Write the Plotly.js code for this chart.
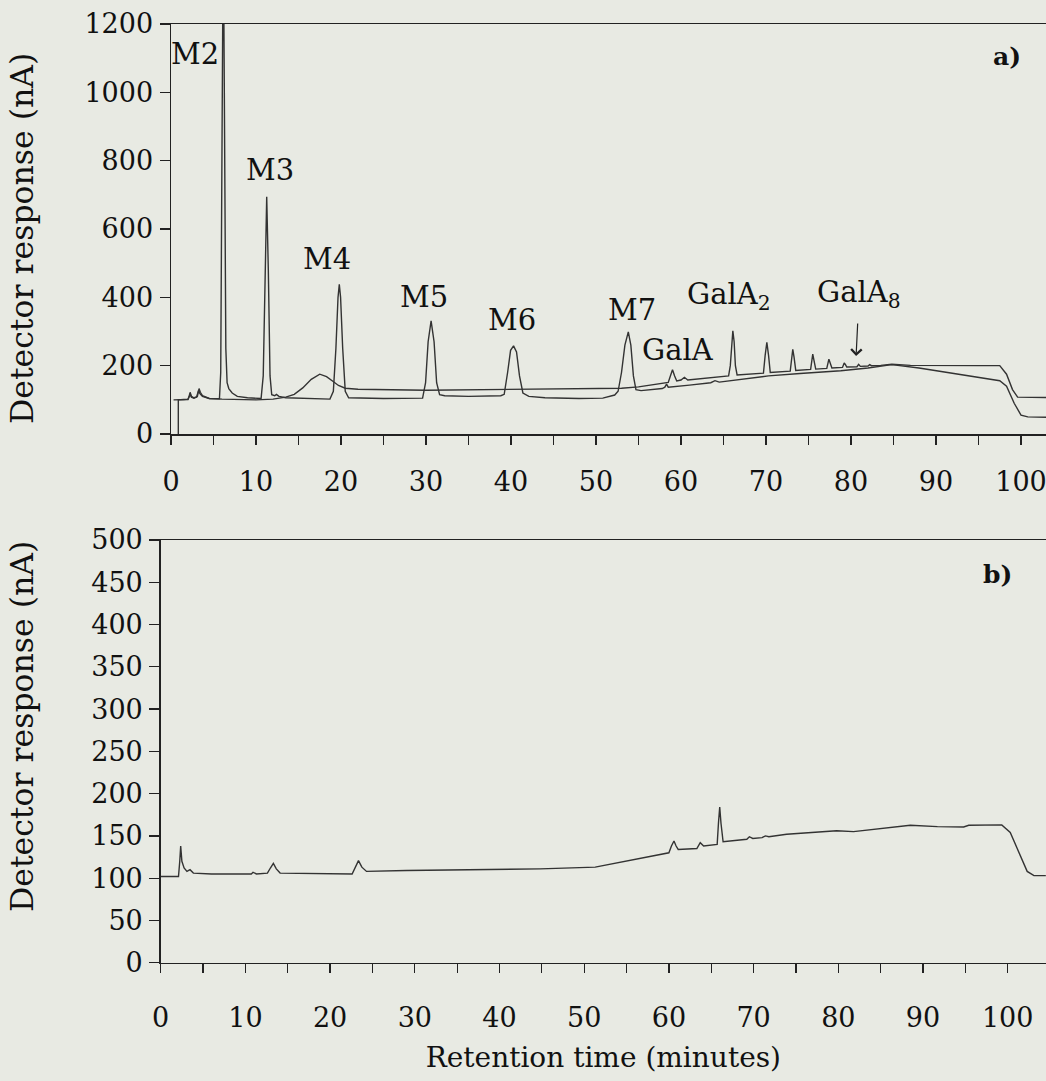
<!DOCTYPE html>
<html>
<head>
<meta charset="utf-8">
<script src="https://cdn.plot.ly/plotly-3.0.1.min.js"></script>
<style>
  html, body { margin: 0; padding: 0; background: #e8eae3; }
  #chart { width: 1046px; height: 1081px; }
</style>
</head>
<body>
<div id="chart"></div>
<script>
// ---------- data ----------
// Panel a), trace 1: oligomer standards M2..M7 (minutes, nA)
const timeStd = [0.86, 0.86, 1.5, 2.0, 2.15, 2.25, 2.4, 2.7, 3.0, 3.15, 3.25, 3.4, 3.7, 4.5, 5.7,
  5.85, 5.95, 6.05, 6.15, 6.25, 6.35, 6.45, 6.6, 6.8, 7.2, 7.8, 9.0,
  10.6, 10.85, 11.05, 11.26, 11.45, 11.65, 11.85, 12.2, 12.4, 12.7, 13.5,
  18.7, 19.1, 19.4, 19.65, 19.8, 19.95, 20.2, 20.5, 20.9, 25.0,
  29.6, 29.95, 30.25, 30.6, 30.95, 31.25, 31.6, 32.2, 35.0, 38.8,
  39.2, 39.6, 39.95, 40.3, 40.65, 41.0, 41.4, 42.1, 44.0, 48.0, 50.8, 52.2,
  52.6, 53.0, 53.4, 53.8, 54.1, 54.4, 54.7, 55.3, 56.5, 57.8, 58.1, 58.3, 58.5, 59.5, 61.0, 63.5,
  64.0, 64.5, 67.0, 70.3, 74.0, 78.8, 82.0, 84.8, 88.0, 91.5, 95.0, 97.5, 98.3, 99.2, 100.0, 100.8, 103.0];
const respStd = [0, 100, 101, 102, 112, 122, 110, 106, 108, 120, 128, 118, 110, 104, 103,
  180, 600, 1100, 1500, 1100, 600, 250, 150, 133, 120, 110, 106,
  104, 170, 480, 694, 480, 170, 115, 112, 116, 110, 106,
  102, 125, 250, 400, 438, 400, 250, 125, 106, 104,
  105, 150, 270, 331, 270, 150, 115, 112, 110, 112,
  116, 180, 245, 258, 240, 170, 120, 110, 106, 104, 105, 114,
  125, 180, 260, 299, 260, 170, 130, 127, 129, 133, 137, 146, 137, 139, 143, 150,
  156, 152, 160, 170, 177, 185, 193, 203, 193, 180, 166, 156, 140, 90, 55, 50, 49];

// Panel a), trace 2: GalA oligomers sample
const timeGal = [0.3, 2.0, 2.15, 2.25, 2.4, 2.7, 3.1, 3.2, 3.3, 3.45, 3.7, 4.5, 6.0, 10.0, 12.0,
  13.5, 14.5, 15.5, 16.5, 17.5, 18.3, 19.0, 19.7, 20.5, 22.0, 30.0, 35.0, 40.0, 45.0, 50.0, 53.0, 55.0, 57.0,
  58.5, 58.75, 59.0, 59.25, 59.5, 60.0, 60.4, 60.8, 63.0, 65.6,
  65.8, 65.95, 66.1, 66.25, 66.4, 66.6,
  69.7, 69.9, 70.1, 70.3, 70.5,
  72.85, 73.0, 73.15, 73.3, 73.5,
  75.25, 75.4, 75.5, 75.65, 75.85,
  77.15, 77.3, 77.4, 77.55, 77.75,
  79.0, 79.1, 79.2, 79.35, 79.5,
  80.7, 80.9, 81.1, 82.0, 82.2, 82.4, 83.5, 84.8, 87.0, 90.0, 95.0, 97.5, 98.3, 99.0, 99.6, 103.0];
const respGal = [100, 101, 110, 118, 108, 105, 110, 125, 133, 122, 112, 104, 102, 100, 102,
  108, 116, 135, 160, 175, 168, 155, 142, 134, 131, 128, 129, 131, 131, 132, 134, 138, 146,
  151, 170, 188, 170, 155, 158, 166, 158, 163, 170,
  200, 270, 302, 270, 200, 173,
  178, 230, 268, 230, 180,
  184, 225, 248, 225, 186,
  189, 215, 234, 215, 190,
  192, 208, 219, 208, 193,
  195, 203, 208, 203, 196,
  197, 204, 198, 199, 203, 200, 201, 204, 201, 200, 200, 200, 175, 130, 108, 107];

// Panel b): second sample
const timeB = [0, 2.1, 2.25, 2.36, 2.5, 2.76, 3.1, 3.46, 3.86, 6.0, 10.7, 10.9, 11.3, 12.6, 12.95, 13.3, 13.65, 14.1,
  22.6, 22.95, 23.35, 23.75, 24.3, 29.0, 37.0, 44.8, 51.3, 54.3, 57.0, 60.0, 60.3, 60.6, 60.85, 61.1,
  63.3, 63.7, 64.1, 65.7, 65.85, 66.0, 66.15, 66.4, 69.2, 69.5, 69.9, 71.0, 71.4, 71.8, 73.9, 79.8, 81.8,
  85.7, 88.5, 91.7, 94.8, 95.4, 99.3, 100.3, 101.5, 102.3, 103.1, 104.5];
const respB = [102, 102, 120, 138, 120, 112, 108, 110, 106, 105, 105, 107, 105, 106, 112, 117.5, 111, 106,
  105, 113, 120.7, 113, 108, 109, 110, 111, 113, 119, 124, 130, 138, 144, 138, 134,
  135, 142, 138, 140, 165, 184, 165, 143, 146, 149, 147, 148, 150, 149, 152, 156, 155,
  159, 162.5, 161, 160.5, 162.5, 163, 154, 126, 108, 103, 103];

const peakLabels = ['M2', 'M3', 'M4', 'M5', 'M6', 'M7', 'GalA', 'GalA<sub>2</sub>', 'GalA<sub>8</sub>'];
const panelLabels = ['a)', 'b)'];
const xTitle = 'Retention time (minutes)';
const yTitle = 'Detector response (nA)';

// ---------- styling ----------
const FONT = 'DejaVu Serif';
const INK = '#222222';
const LINE = '#333333';
const BG = '#e8eae3';
const W = 1046, H = 1081;

const traceStyle = { color: LINE, width: 1.4 };
const traces = [
  { x: timeStd, y: respStd, type: 'scatter', mode: 'lines', line: traceStyle, xaxis: 'x', yaxis: 'y', showlegend: false },
  { x: timeGal, y: respGal, type: 'scatter', mode: 'lines', line: traceStyle, xaxis: 'x', yaxis: 'y', showlegend: false },
  { x: timeB, y: respB, type: 'scatter', mode: 'lines', line: traceStyle, xaxis: 'x2', yaxis: 'y2', showlegend: false }
];

function xAxis(domL, rangeMax, anchor, labelStandoff, withTitle) {
  const ax = {
    domain: [domL / W, 1], range: [0, rangeMax], anchor: anchor,
    showgrid: false, zeroline: false, showline: true, linecolor: INK, linewidth: 1.5,
    mirror: true,
    ticks: 'outside', ticklen: 9, tickwidth: 1.3, tickcolor: INK,
    tick0: 0, dtick: 10,
    minor: { dtick: 5, ticks: 'outside', ticklen: 9, tickwidth: 1.3, tickcolor: INK, showgrid: false },
    tickfont: { family: FONT, size: 27, color: '#111' },
    ticklabelstandoff: labelStandoff,
    ticklabeloverflow: 'allow'
  };
  if (withTitle) ax.title = { text: xTitle, font: { family: FONT, size: 28, color: '#111' }, standoff: 16 };
  return ax;
}
function yAxis(pxTop, pxBot, rangeMax, dtick, anchor) {
  return {
    domain: [1 - pxBot / H, 1 - pxTop / H], range: [0, rangeMax], anchor: anchor,
    showgrid: false, zeroline: false, showline: true, linecolor: INK, linewidth: 1.5,
    ticks: 'outside', ticklen: 10, tickwidth: 1.3, tickcolor: INK,
    tick0: 0, dtick: dtick,
    tickfont: { family: FONT, size: 27, color: '#111' },
    ticklabelstandoff: 1,
    ticklabeloverflow: 'allow'
  };
}

const annFont = { family: FONT, size: 29, color: '#111' };
function lab(text, x, y) {
  return { text: text, x: x, y: y, xref: 'x', yref: 'y', showarrow: false, font: annFont, xanchor: 'center', yanchor: 'middle' };
}
function yTitleAnn(py) {
  return { text: yTitle, x: 22 / W, y: 1 - py / H, xref: 'paper', yref: 'paper', showarrow: false, textangle: -90,
    font: { family: FONT, size: 31.5, color: '#111' }, xanchor: 'center', yanchor: 'middle' };
}
function panelAnn(text, px, py) {
  return { text: '<b>' + text + '</b>', x: px / W, y: 1 - py / H, xref: 'paper', yref: 'paper', showarrow: false,
    font: { family: FONT, size: 25, color: '#111' }, xanchor: 'center', yanchor: 'middle' };
}
const annotations = [
  lab(peakLabels[0], 2.85, 1112),
  lab(peakLabels[1], 11.65, 773),
  lab(peakLabels[2], 18.3, 512),
  lab(peakLabels[3], 29.8, 401),
  lab(peakLabels[4], 40.1, 334),
  lab(peakLabels[5], 54.2, 363),
  lab(peakLabels[6], 59.6, 246),
  lab(peakLabels[7], 65.6, 405),
  { text: peakLabels[8], x: 80.6, y: 228, xref: 'x', yref: 'y', showarrow: true, ax: 3, ay: -62,
    startstandoff: 9, arrowhead: 4, arrowsize: 1.7, arrowwidth: 1.2, arrowcolor: INK, font: annFont },
  panelAnn(panelLabels[0], 1007, 57),
  panelAnn(panelLabels[1], 997, 574),
  yTitleAnn(239),
  yTitleAnn(727)
];

const layout = {
  width: W, height: H,
  margin: { l: 0, r: 0, t: 0, b: 0, pad: 0 },
  paper_bgcolor: BG, plot_bgcolor: BG,
  font: { family: FONT, color: '#111' },
  showlegend: false,
  xaxis: xAxis(171, (W - 171) / 8.5, 'y', 14, false),
  yaxis: yAxis(24, 434, 1200, 200, 'x'),
  xaxis2: xAxis(160.7, (W - 160.7) / 8.47, 'y2', 21, true),
  yaxis2: yAxis(540, 962.7, 500, 50, 'x2'),
  annotations: annotations
};

Plotly.newPlot('chart', traces, layout, { staticPlot: true, displayModeBar: false }).then(function (gd) {
  // drop the empty placeholder title elements Plotly leaves behind
  gd.querySelectorAll('text').forEach(function (t) {
    if (!t.textContent || !t.textContent.trim()) t.parentNode.removeChild(t);
  });
});
</script>
</body>
</html>
